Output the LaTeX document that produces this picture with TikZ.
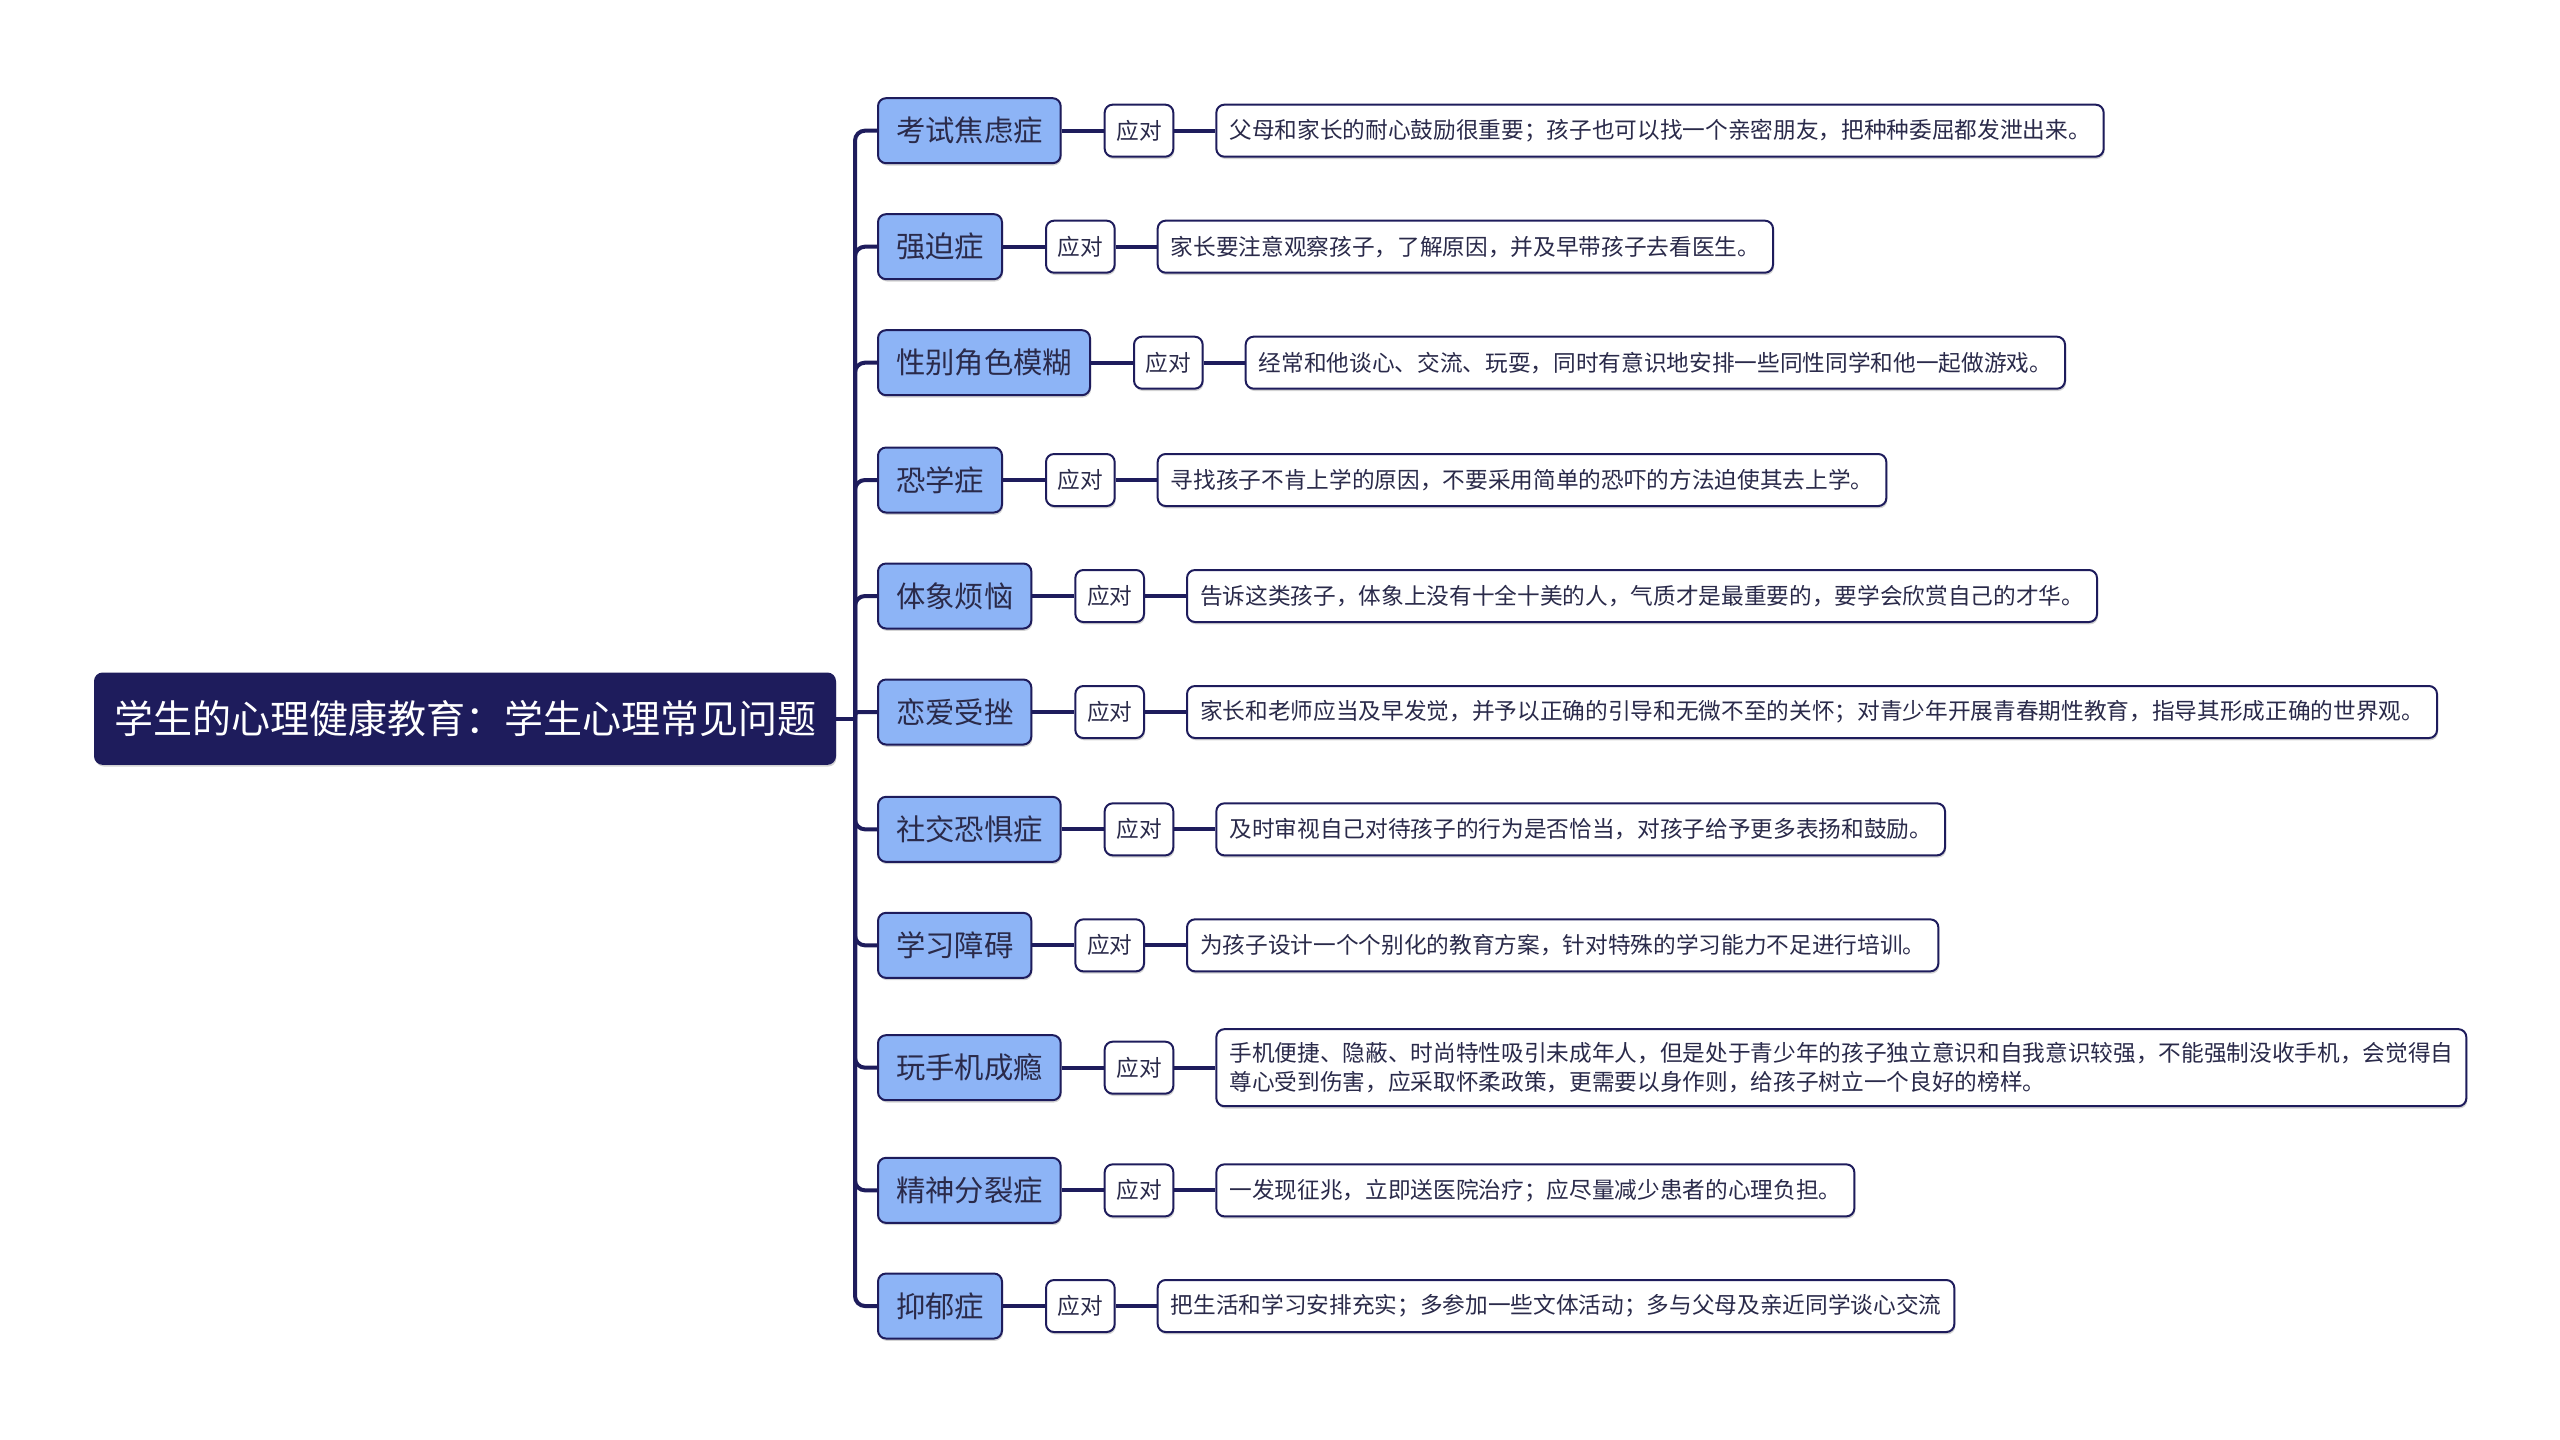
\documentclass[tikz,border=0pt]{standalone}
\usepackage{fontspec}
\setmainfont{Noto Sans CJK SC}
\usepackage{tikz}
\usetikzlibrary{positioning}
\usetikzlibrary{shapes,calc,shadows}
\definecolor{navy}{HTML}{1E1C5C}
\definecolor{skyfill}{HTML}{8DB4F6}
\definecolor{inktext}{HTML}{2A2A4A}
\tikzset{
	node distance = 12.6pt and 12.6pt,
	branch/.style = {draw=navy, line width=1.2pt},
	boxshadow/.style = {drop shadow={shadow xshift=0.3pt, shadow yshift=-0.7pt, opacity=0.35}},
	root/.style = {rectangle, rounded corners=2.4pt, fill=navy, draw=navy,
		text=white, minimum height=27.3pt, inner xsep=5.8pt,
		font=\fontsize{11.7pt}{14pt}\selectfont, boxshadow},
	topic/.style = {rectangle, rounded corners=2.4pt, fill=skyfill, draw=navy,
		line width=0.6pt, minimum height=19.5pt, inner xsep=5.4pt, text=inktext,
		font=\fontsize{8.8pt}{10pt}\selectfont, anchor=west, boxshadow},
	tag/.style = {rectangle, rounded corners=2.4pt, fill=white, draw=navy,
		line width=0.6pt, minimum height=15.6pt, inner xsep=3.5pt, text=inktext,
		font=\fontsize{6.8pt}{8.8pt}\selectfont, boxshadow},
	note/.style = {tag, inner xsep=3.9pt, inner ysep=3.9pt, align=left},
}

\begin{document}
\begin{tikzpicture}[x=1pt, y=-1pt]
	\useasboundingbox (0,0) rectangle (768,431.7);
	\node (root) [root] at (139.5,215.6) {学生的心理健康教育：学生心理常见问题};
	\coordinate (hub) at (256.5,215.6);
	% problems
	\node (t1)  [topic] at (263.1,39.2)  {考试焦虑症};
	\node (t2)  [topic] at (263.1,74.0)  {强迫症};
	\node (t3)  [topic] at (263.1,108.8) {性别角色模糊};
	\node (t4)  [topic] at (263.1,144.0) {恐学症};
	\node (t5)  [topic] at (263.1,178.8) {体象烦恼};
	\node (t6)  [topic] at (263.1,213.6) {恋爱受挫};
	\node (t7)  [topic] at (263.1,248.8) {社交恐惧症};
	\node (t8)  [topic] at (263.1,283.6) {学习障碍};
	\node (t9)  [topic] at (263.1,320.3) {玩手机成瘾};
	\node (t10) [topic] at (263.1,357.1) {精神分裂症};
	\node (t11) [topic] at (263.1,391.8) {抑郁症};
	% responses
	\node (r1)  [tag, right = of t1]  {应对};
	\node (r2)  [tag, right = of t2]  {应对};
	\node (r3)  [tag, right = of t3]  {应对};
	\node (r4)  [tag, right = of t4]  {应对};
	\node (r5)  [tag, right = of t5]  {应对};
	\node (r6)  [tag, right = of t6]  {应对};
	\node (r7)  [tag, right = of t7]  {应对};
	\node (r8)  [tag, right = of t8]  {应对};
	\node (r9)  [tag, right = of t9]  {应对};
	\node (r10) [tag, right = of t10] {应对};
	\node (r11) [tag, right = of t11] {应对};
	\node (n1)  [note, right = 12.3pt of r1]  {父母和家长的耐心鼓励很重要；孩子也可以找一个亲密朋友，把种种委屈都发泄出来。};
	\node (n2)  [note, right = 12.3pt of r2]  {家长要注意观察孩子，了解原因，并及早带孩子去看医生。};
	\node (n3)  [note, right = 12.3pt of r3]  {经常和他谈心、交流、玩耍，同时有意识地安排一些同性同学和他一起做游戏。};
	\node (n4)  [note, right = 12.3pt of r4]  {寻找孩子不肯上学的原因，不要采用简单的恐吓的方法迫使其去上学。};
	\node (n5)  [note, right = 12.3pt of r5]  {告诉这类孩子，体象上没有十全十美的人，气质才是最重要的，要学会欣赏自己的才华。};
	\node (n6)  [note, right = 12.3pt of r6]  {家长和老师应当及早发觉，并予以正确的引导和无微不至的关怀；对青少年开展青春期性教育，指导其形成正确的世界观。};
	\node (n7)  [note, right = 12.3pt of r7]  {及时审视自己对待孩子的行为是否恰当，对孩子给予更多表扬和鼓励。};
	\node (n8)  [note, right = 12.3pt of r8]  {为孩子设计一个个别化的教育方案，针对特殊的学习能力不足进行培训。};
	\node (n9)  [note, right = 12.3pt of r9]  {手机便捷、隐蔽、时尚特性吸引未成年人，但是处于青少年的孩子独立意识和自我意识较强，不能强制没收手机，会觉得自\\尊心受到伤害，应采取怀柔政策，更需要以身作则，给孩子树立一个良好的榜样。};
	\node (n10) [note, right = 12.3pt of r10] {一发现征兆，立即送医院治疗；应尽量减少患者的心理负担。};
	\node (n11) [note, right = 12.3pt of r11] {把生活和学习安排充实；多参加一些文体活动；多与父母及亲近同学谈心交流};
	% connectors
	\draw[branch] (root) -- (hub);
	\draw[branch, rounded corners=3pt] (hub) |- (t1);
	\draw[branch, rounded corners=3pt] (hub) |- (t2);
	\draw[branch, rounded corners=3pt] (hub) |- (t3);
	\draw[branch, rounded corners=3pt] (hub) |- (t4);
	\draw[branch, rounded corners=3pt] (hub) |- (t5);
	\draw[branch, rounded corners=1pt] (hub) |- (t6);
	\draw[branch, rounded corners=3pt] (hub) |- (t7);
	\draw[branch, rounded corners=3pt] (hub) |- (t8);
	\draw[branch, rounded corners=3pt] (hub) |- (t9);
	\draw[branch, rounded corners=3pt] (hub) |- (t10);
	\draw[branch, rounded corners=3pt] (hub) |- (t11);
	\draw[branch] (t1) -- (r1);   \draw[branch] (r1) -- (n1);
	\draw[branch] (t2) -- (r2);   \draw[branch] (r2) -- (n2);
	\draw[branch] (t3) -- (r3);   \draw[branch] (r3) -- (n3);
	\draw[branch] (t4) -- (r4);   \draw[branch] (r4) -- (n4);
	\draw[branch] (t5) -- (r5);   \draw[branch] (r5) -- (n5);
	\draw[branch] (t6) -- (r6);   \draw[branch] (r6) -- (n6);
	\draw[branch] (t7) -- (r7);   \draw[branch] (r7) -- (n7);
	\draw[branch] (t8) -- (r8);   \draw[branch] (r8) -- (n8);
	\draw[branch] (t9) -- (r9);   \draw[branch] (r9) -- (n9);
	\draw[branch] (t10) -- (r10); \draw[branch] (r10) -- (n10);
	\draw[branch] (t11) -- (r11); \draw[branch] (r11) -- (n11);
\end{tikzpicture}
\end{document}
